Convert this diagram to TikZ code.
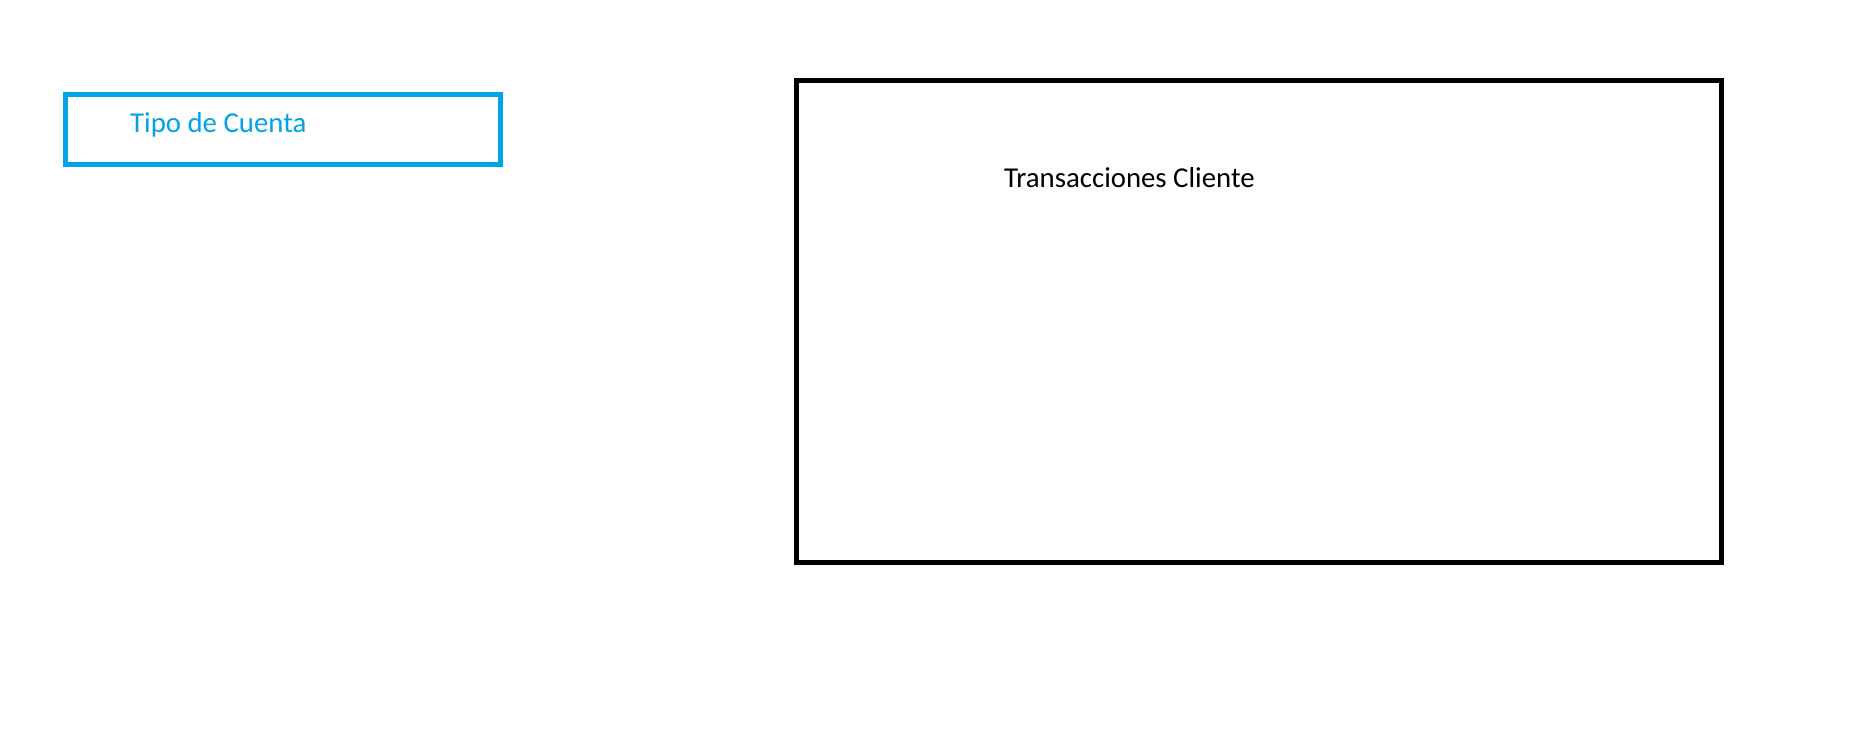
\documentclass[tikz,border=0pt]{standalone}
\usepackage{fontspec}
\setmainfont{Carlito}
\definecolor{paintblue}{HTML}{00A2E8}
\tikzset{
  boxline/.style={draw, line width=5pt, inner sep=0pt, outer sep=0pt},
  lbl/.style={inner sep=0pt, anchor=base west, font=\fontsize{28.8}{34}\selectfont}
}
\begin{document}
\begin{tikzpicture}[x=1pt,y=-1pt]
\useasboundingbox[fill=white] (0,0) rectangle (1869,749);
\node[boxline, draw=paintblue, minimum width=434.7pt, minimum height=69.7pt, anchor=north west] (tipobox) at (65.8,94.5) {};
\node[lbl, text=paintblue] (tipo) at (130,133) {Tipo de Cuenta};
\node[boxline, draw=black, minimum width=925pt, minimum height=481.7pt, anchor=north west] (transbox) at (796.5,80.5) {};
\node[lbl, text=black] (trans) at (1004,187) {Transacciones Cliente};
\end{tikzpicture}
\end{document}
